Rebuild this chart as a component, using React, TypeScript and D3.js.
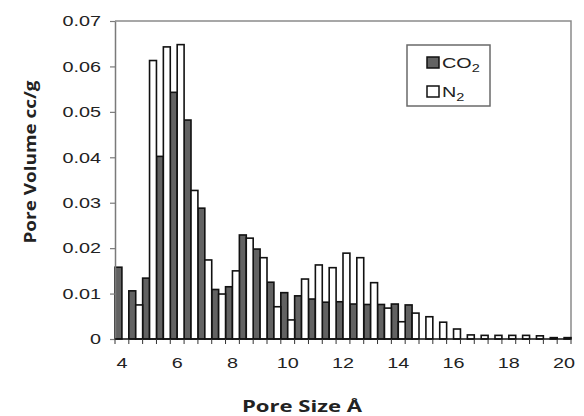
import React, { useEffect, useRef } from 'react';
import * as d3 from 'd3';

// pore size categories (Å), every 0.5
const poreSizes = [
  '4', '4.5', '5', '5.5', '6', '6.5', '7', '7.5', '8', '8.5', '9', '9.5',
  '10', '10.5', '11', '11.5', '12', '12.5', '13', '13.5', '14', '14.5',
  '15', '15.5', '16', '16.5', '17', '17.5', '18', '18.5', '19', '19.5', '20'
];

// pore volume cc/g
const co2Volume = [
  0.0158, 0.0106, 0.0134, 0.0402, 0.0543, 0.0482, 0.0288, 0.0109, 0.0115, 0.0229,
  0.0198, 0.0125, 0.0102, 0.0095, 0.0088, 0.0081, 0.0082, 0.0077, 0.0076, 0.0076,
  0.0077, 0.0075, 0, 0, 0, 0, 0, 0, 0, 0, 0, 0, 0
];

const n2Volume = [
  0, 0.0075, 0.0613, 0.0643, 0.0648, 0.0327, 0.0174, 0.0099, 0.015, 0.0222,
  0.0179, 0.0071, 0.0042, 0.0132, 0.0163, 0.0157, 0.0189, 0.0179, 0.0124, 0.0068,
  0.0038, 0.0057, 0.0049, 0.0037, 0.0022, 0.0009, 0.0008, 0.0008, 0.0008, 0.0008,
  0.0007, 0.0003, 0.0003
];

const yTicks = [0, 0.01, 0.02, 0.03, 0.04, 0.05, 0.06, 0.07];
const xTickLabels = ['4', '6', '8', '10', '12', '14', '16', '18', '20'];

const width = 584;
const height = 416;

export default function App() {
  const ref = useRef<SVGSVGElement>(null);

  useEffect(() => {
    const svg = d3.select(ref.current);
    svg.selectAll('*').remove();

    const margin = { top: 21, right: 13, bottom: 77, left: 115 };
    const plotRight = width - margin.right;
    const plotBottom = height - margin.bottom;

    const x = d3.scaleBand<string>()
      .domain(poreSizes)
      .range([margin.left, plotRight])
      .padding(0);
    const half = x.bandwidth() / 2;

    const y = d3.scaleLinear()
      .domain([0, 0.07])
      .range([plotBottom, margin.top]);

    const stretch = 1.32;
    const font = 'Arial, "Liberation Sans", sans-serif';

    // plot frame (top / right)
    svg.append('path')
      .attr('d', `M${margin.left},${margin.top}H${plotRight}V${plotBottom}`)
      .attr('fill', 'none')
      .attr('stroke', '#8a8a8a')
      .attr('stroke-width', 1.5);

    // bars
    const bars = svg.append('g');
    bars.selectAll('rect.co2')
      .data(poreSizes.map((p, i) => ({ p, v: co2Volume[i] })).filter(d => d.v > 0))
      .enter().append('rect')
      .attr('class', 'co2')
      .attr('x', d => x(d.p)!)
      .attr('y', d => y(d.v))
      .attr('width', half)
      .attr('height', d => plotBottom - y(d.v))
      .attr('fill', '#626262')
      .attr('stroke', '#111')
      .attr('stroke-width', 1.6);

    bars.selectAll('rect.n2')
      .data(poreSizes.map((p, i) => ({ p, v: n2Volume[i] })).filter(d => d.v > 0))
      .enter().append('rect')
      .attr('class', 'n2')
      .attr('x', d => x(d.p)! + half)
      .attr('y', d => y(d.v))
      .attr('width', half)
      .attr('height', d => plotBottom - y(d.v))
      .attr('fill', '#fff')
      .attr('stroke', '#111')
      .attr('stroke-width', 1.6);

    // y axis
    const yAxis = svg.append('g')
      .attr('transform', `translate(${margin.left},0)`)
      .call(d3.axisLeft(y).tickValues(yTicks).tickSize(5).tickSizeOuter(0)
        .tickFormat(d => (+d === 0 ? '0' : d3.format('.2f')(+d))));
    yAxis.select('.domain').attr('stroke', '#7a7a7a').attr('stroke-width', 1.5);
    yAxis.selectAll('line').attr('stroke', '#7a7a7a').attr('stroke-width', 1.2);
    yAxis.selectAll('text')
      .attr('x', -14 / stretch)
      .attr('transform', `scale(${stretch},1)`)
      .style('font-family', font)
      .style('font-size', '15px')
      .attr('fill', '#222');

    // x axis
    const xAxis = svg.append('g');
    xAxis.append('line')
      .attr('x1', margin.left).attr('x2', plotRight)
      .attr('y1', plotBottom).attr('y2', plotBottom)
      .attr('stroke', '#111')
      .attr('stroke-width', 1.5);
    xAxis.selectAll('line.tick')
      .data([...poreSizes.map(p => x(p)!), plotRight])
      .enter().append('line')
      .attr('class', 'tick')
      .attr('x1', d => d).attr('x2', d => d)
      .attr('y1', plotBottom).attr('y2', plotBottom + 5)
      .attr('stroke', '#333')
      .attr('stroke-width', 1);
    xAxis.selectAll('text')
      .data(xTickLabels)
      .enter().append('text')
      .attr('transform', d => `translate(${x(d)! + x.bandwidth() / 2},368) scale(${stretch},1)`)
      .attr('text-anchor', 'middle')
      .style('font-family', font)
      .style('font-size', '15px')
      .attr('fill', '#222')
      .text(d => d);

    // axis titles
    svg.append('text')
      .attr('transform', 'translate(36,162) rotate(-90)')
      .attr('text-anchor', 'middle')
      .attr('textLength', 163)
      .attr('lengthAdjust', 'spacingAndGlyphs')
      .style('font-family', '"Open Sans", sans-serif')
      .style('font-weight', 'bold')
      .style('font-size', '16px')
      .attr('fill', '#222')
      .text('Pore Volume cc/g');

    svg.append('text')
      .attr('x', 302)
      .attr('y', 412)
      .attr('text-anchor', 'middle')
      .attr('textLength', 120)
      .attr('lengthAdjust', 'spacingAndGlyphs')
      .style('font-family', '"Open Sans", sans-serif')
      .style('font-weight', 'bold')
      .style('font-size', '16px')
      .attr('fill', '#222')
      .text('Pore Size Å');

    // legend
    const legend = svg.append('g');
    legend.append('rect')
      .attr('x', 407).attr('y', 45)
      .attr('width', 83).attr('height', 61)
      .attr('fill', '#fff')
      .attr('stroke', '#6a6a6a')
      .attr('stroke-width', 1.5);

    const keys = [
      { name: 'CO', fill: '#626262' },
      { name: 'N', fill: '#fff' }
    ];
    const item = legend.selectAll('g.item')
      .data(keys)
      .enter().append('g')
      .attr('class', 'item')
      .attr('transform', (d, i) => `translate(0,${i * 29})`);
    item.append('rect')
      .attr('x', 427).attr('y', 57)
      .attr('width', 12).attr('height', 11)
      .attr('fill', d => d.fill)
      .attr('stroke', '#111')
      .attr('stroke-width', 1.5);
    const label = item.append('text')
      .attr('transform', `translate(442,68) scale(${stretch},1)`)
      .style('font-family', font)
      .style('font-size', '15px')
      .attr('fill', '#222');
    label.append('tspan').text(d => d.name);
    label.append('tspan')
      .attr('dy', 4)
      .style('font-size', '11px')
      .text('2');
  }, []);

  return (
    <svg
      ref={ref}
      width={width}
      height={height}
      style={{ position: 'absolute', left: 0, top: 0, background: '#fff' }}
    />
  );
}
